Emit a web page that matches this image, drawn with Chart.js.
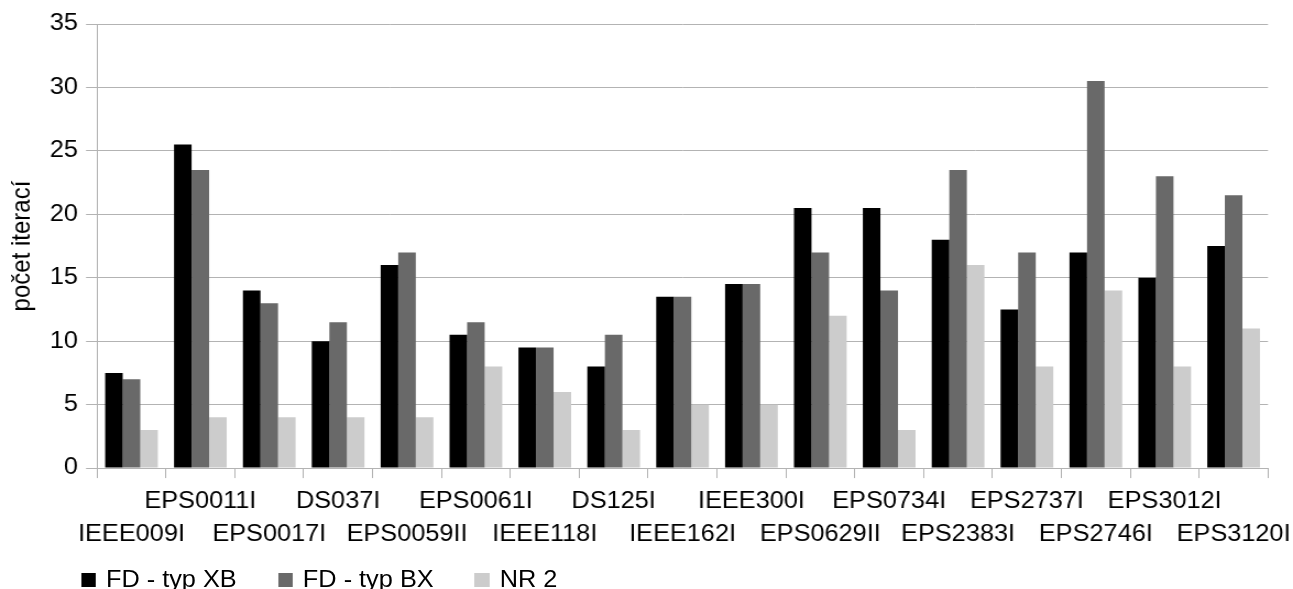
<!DOCTYPE html>
<html>
<head>
<meta charset="utf-8">
<script src="https://cdn.jsdelivr.net/npm/chart.js@4"></script>
<style>
  html, body { margin: 0; padding: 0; background: #fff; overflow: hidden; }
  /* puvodni graf je mirne vodorovne roztazeny, proto scaleX */
  #wrap { position: relative; width: 1175px; height: 589px; transform: scaleX(1.10043); transform-origin: 0 0; }
  #legend { position: absolute; left: 73.6px; top: 568px; display: flex; gap: 37.4px;
            font: 23px 'Liberation Sans', Arial, sans-serif; line-height: 23px; color: #000; }
  #legend .item { display: flex; align-items: center; white-space: nowrap; }
  #legend .box { display: inline-block; width: 13.6px; height: 14px; margin-right: 9.1px; }
</style>
</head>
<body>
<div id="wrap">
  <canvas id="chart" width="1175" height="589"></canvas>
  <div id="legend"></div>
</div>
<script>
const categories = ['IEEE009I', 'EPS0011I', 'EPS0017I', 'DS037I', 'EPS0059II', 'EPS0061I', 'IEEE118I', 'DS125I', 'IEEE162I',
    'IEEE300I', 'EPS0629II', 'EPS0734I', 'EPS2383I', 'EPS2737I', 'EPS2746I', 'EPS3012I', 'EPS3120I'];
const seriesNames = ['FD - typ XB', 'FD - typ BX', 'NR 2'];
const fdXB = [7.5, 25.5, 14, 10, 16, 10.5, 9.5, 8, 13.5, 14.5, 20.5, 20.5, 18, 12.5, 17, 15, 17.5];
const fdBX = [7, 23.5, 13, 11.5, 17, 11.5, 9.5, 10.5, 13.5, 14.5, 17, 14, 23.5, 17, 30.5, 23, 21.5];
const nr2 = [3, 4, 4, 4, 4, 8, 6, 3, 5, 5, 12, 3, 16, 8, 14, 8, 11];
const yTicks = [0, 5, 10, 15, 20, 25, 30, 35];
const colors = ['#000000', '#696969', '#cccccc'];

// popisky ve dvou radcich (stridave)
const labels = categories.map((c, i) => i % 2 === 0 ? ['', c] : [c, '']);

const gridGray = '#b3b3b3';
const font = "'Liberation Sans', Arial, sans-serif";

new Chart(document.getElementById('chart'), {
    type: 'bar',
    data: {
        labels: labels,
        datasets: [
            { label: seriesNames[0], data: fdXB, backgroundColor: colors[0] },
            { label: seriesNames[1], data: fdBX, backgroundColor: colors[1] },
            { label: seriesNames[2], data: nr2, backgroundColor: colors[2] }
        ]
    },
    options: {
        responsive: false,
        animation: false,
        layout: { padding: { top: 24, right: 22.7, left: 0, bottom: 30.6 } },
        datasets: { bar: { barPercentage: 1, categoryPercentage: 0.765 } },
        plugins: {
            tooltip: { enabled: false },
            legend: { display: false }
        },
        scales: {
            x: {
                offset: true,
                // posledni popisek se vejde do okraje, neni treba zuzovat graf
                afterFit: scale => { scale.paddingRight = 0; },
                grid: {
                    offset: true,
                    drawOnChartArea: true,
                    color: ctx => ctx.index === categories.length ? gridGray : 'rgba(0,0,0,0)',
                    tickColor: gridGray,
                    tickLength: 10
                },
                border: { display: true, color: gridGray },
                ticks: {
                    autoSkip: false,
                    maxRotation: 0,
                    minRotation: 0,
                    color: '#000',
                    padding: 7.5,
                    font: { family: font, size: 23, lineHeight: 1.42 }
                }
            },
            y: {
                min: 0,
                max: 35,
                afterBuildTicks: axis => { axis.ticks = yTicks.map(v => ({ value: v })); },
                grid: { color: gridGray, tickColor: gridGray, tickLength: 10 },
                border: { display: true, color: gridGray },
                ticks: {
                    color: '#000',
                    padding: 7.3,
                    font: { family: font, size: 23 }
                },
                title: {
                    display: true,
                    text: 'počet iterací',
                    color: '#000',
                    padding: { top: 6, bottom: 3.2 },
                    font: { family: font, size: 24 }
                }
            }
        }
    }
});

// legenda pod grafem
document.getElementById('legend').innerHTML = seriesNames.map((name, i) => `
    <span class="item"><span class="box" style="background:${colors[i]}"></span>${name}</span>
`).join('');
</script>
</body>
</html>
